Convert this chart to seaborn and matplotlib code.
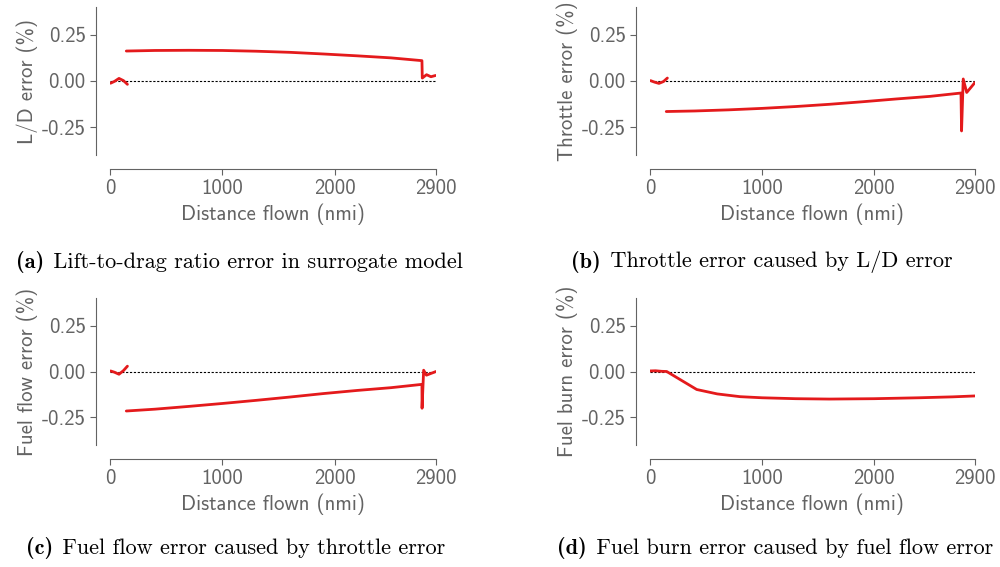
import numpy as np
import pandas as pd
import seaborn as sns
import matplotlib
matplotlib.use("Agg")
import matplotlib.pyplot as plt
from matplotlib.transforms import offset_copy

# --- data -------------------------------------------------------------
climb_x = [5, 40, 80, 120, 155]
cruise_x = [145, 400, 700, 1000, 1300, 1600, 1900, 2200, 2500, 2775]

ld_climb = [-0.012, -0.002, 0.014, 0.002, -0.018]
ld_cruise = [0.162, 0.165, 0.166, 0.165, 0.161, 0.155, 0.146, 0.136, 0.125, 0.110]
ld_descent_x = [2778, 2816, 2855, 2897]
ld_descent = [0.016, 0.034, 0.023, 0.030]

thr_climb = [0.002, -0.006, -0.013, -0.003, 0.016]
thr_cruise = [-0.165, -0.162, -0.156, -0.148, -0.138, -0.126, -0.112, -0.097, -0.083, -0.065]
thr_descent_x = [2780, 2795, 2826, 2900]
thr_descent = [-0.270, 0.011, -0.062, -0.008]

ff_climb = [0.003, -0.004, -0.015, 0.005, 0.029]
ff_cruise = [-0.215, -0.205, -0.190, -0.174, -0.157, -0.139, -0.120, -0.103, -0.088, -0.070]
ff_descent_x = [2776, 2790, 2815, 2900]
ff_descent = [-0.200, 0.007, -0.020, 0.000]

fb_x = [0, 50, 104, 149, 280, 417, 600, 804, 1000, 1300, 1600, 2000, 2400, 2700, 2900]
fb_vals = [0.003, 0.004, 0.001, 0.0, -0.048, -0.098, -0.122, -0.137, -0.143,
           -0.148, -0.150, -0.148, -0.143, -0.138, -0.133]

x_ticks = [0, 1000, 2000, 2900]
y_ticks = [-0.25, 0.0, 0.25]
y_ticklabels = ["-0.25", "0.00", "0.25"]

ylabels = ["L/D error (%)", "Throttle error (%)", "Fuel flow error (%)", "Fuel burn error (%)"]
captions = [
    ("(a)", "Lift-to-drag ratio error in surrogate model"),
    ("(b)", "Throttle error caused by L/D error"),
    ("(c)", "Fuel flow error caused by throttle error"),
    ("(d)", "Fuel burn error caused by fuel flow error"),
]


def segments(climb, cruise, desc_x, desc):
    """Climb drawn on its own; cruise and descent joined as one path."""
    return pd.DataFrame({
        "dist": list(climb_x) + list(cruise_x) + list(desc_x),
        "err": list(climb) + list(cruise) + list(desc),
        "seg": [0] * len(climb_x) + [1] * (len(cruise_x) + len(desc_x)),
    })


frames = [
    segments(ld_climb, ld_cruise, ld_descent_x, ld_descent),
    segments(thr_climb, thr_cruise, thr_descent_x, thr_descent),
    segments(ff_climb, ff_cruise, ff_descent_x, ff_descent),
    pd.DataFrame({"dist": fb_x, "err": fb_vals, "seg": [0] * len(fb_x)}),
]

# --- style ------------------------------------------------------------
sns.set_theme(style="ticks")
plt.rcParams["font.family"] = ["cmss10", "DejaVu Sans"]
plt.rcParams["mathtext.fontset"] = "cm"
plt.rcParams["axes.unicode_minus"] = False
plt.rcParams["axes.formatter.use_mathtext"] = True

grey = "#636363"
red = "#e41a1c"

fig = plt.figure(figsize=(10, 5.67), dpi=100)
W, H = 1000, 567
rects = [(110, 7, 436, 155), (650, 7, 975, 155), (110, 298, 436, 445), (650, 298, 975, 445)]
cap_pos = [(238, 262), (761, 262), (235, 548), (774, 548)]
cap_size = 16

for i, (l, t, r, b) in enumerate(rects):
    ax = fig.add_axes([l / W, 1 - b / H, (r - l) / W, (b - t) / H])
    ax.axhline(0, color="black", lw=0.8, ls=(0, (2, 1.5)), zorder=1)
    sns.lineplot(data=frames[i], x="dist", y="err", units="seg", estimator=None,
                 color=red, lw=2.0, ax=ax, zorder=3, sort=False)
    ax.set_xlim(0, 2900)
    ax.set_ylim(-0.4, 0.4)
    ax.set_xticks(x_ticks)
    ax.set_xticklabels([str(v) for v in x_ticks])
    ax.set_yticks(y_ticks)
    ax.set_yticklabels(y_ticklabels)
    ax.set_xlabel("Distance flown (nmi)", fontsize=15, color=grey, labelpad=4)
    ax.set_ylabel(ylabels[i], fontsize=15, color=grey, labelpad=3)
    ax.tick_params(labelsize=15, colors=grey, length=4, width=0.8)
    for s in ax.spines.values():
        s.set_color(grey)
        s.set_linewidth(0.8)
    sns.despine(ax=ax, offset=10)

# captions: bold tag followed by roman text, centred as one unit
renderer = fig.canvas.get_renderer()
for (tag, text), (cx, cy) in zip(captions, cap_pos):
    t1 = fig.text(0, 1 - cy / H, tag, ha="left", va="center",
                  fontsize=cap_size, family="cmb10", color="black")
    t2 = fig.text(0, 1 - cy / H, " " + text, ha="left", va="center",
                  fontsize=cap_size, family="cmr10", color="black")
    w1 = t1.get_window_extent(renderer).width
    w2 = t2.get_window_extent(renderer).width
    x0 = cx - (w1 + w2) / 2
    t1.set_x(x0 / W)
    t2.set_x((x0 + w1 + 2) / W)

fig.savefig("out.png", dpi=100)
